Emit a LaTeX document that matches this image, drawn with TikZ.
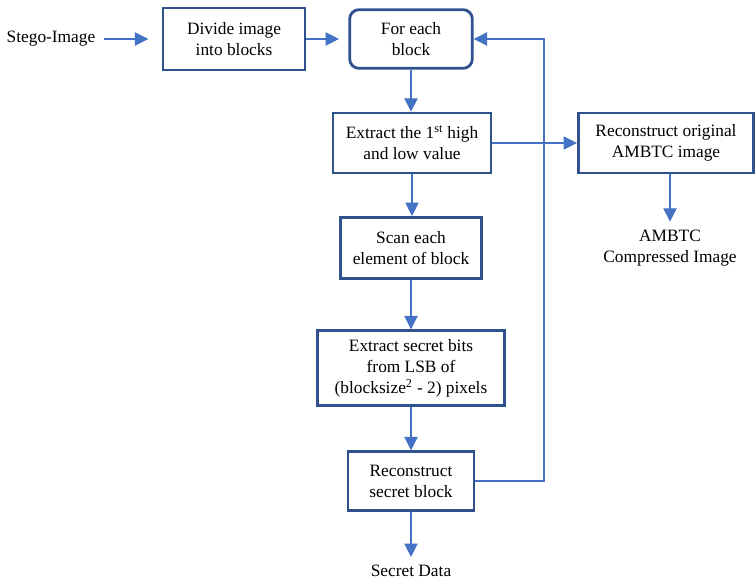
\documentclass[tikz,border=0pt]{standalone}
\usepackage{fontspec}
\setmainfont{Liberation Serif}
\usetikzlibrary{arrows.meta, positioning}

\tikzset{
  stepbox/.style={draw=boxblue, line width=2.1pt, align=center, inner sep=0pt,
    font=\fontsize{13}{15.8}\selectfont},
  loopbox/.style={stepbox, rounded corners=7pt},
  plain/.style={align=center, inner sep=0pt, font=\fontsize{13}{15.8}\selectfont},
  flow/.style={draw=lineblue, line width=0.8pt,
    -{Triangle[width=10pt,length=10pt]}}
}
\definecolor{boxblue}{RGB}{47,82,143}
\definecolor{lineblue}{RGB}{68,114,196}

\begin{document}
\begin{tikzpicture}[x=0.75pt, y=-0.75pt]
  \useasboundingbox (0,0) rectangle (755,582);

  % main column
  \node[plain] (stego) at (51,39) {Stego-Image};
  \node[stepbox, minimum width=106.5pt, minimum height=46.5pt] (divide) at (234,39)
    {Divide image\\into blocks};
  \node[loopbox, minimum width=92pt, minimum height=44pt] (each) at (411,39)
    {For each\\block};
  \node[stepbox, minimum width=118.5pt, minimum height=45pt] (hilo) at (412,143)
    {Extract the 1\textsuperscript{st} high\\and low value};
  \node[stepbox, minimum width=106pt, minimum height=46pt] (scan) at (411,248)
    {Scan each\\element of block};
  \node[stepbox, minimum width=140pt, minimum height=56pt] (bits) at (411,368)
    {Extract secret bits\\from LSB of\\(blocksize\textsuperscript{2} - 2) pixels};
  \node[stepbox, minimum width=94.5pt, minimum height=44pt] (rsec) at (411,481)
    {Reconstruct\\secret block};
  \node[plain] (data) at (411,571) {Secret Data};

  % side branch
  \node[stepbox, minimum width=131.5pt, minimum height=45pt] (rorig) at (666,143)
    {Reconstruct original\\AMBTC image};
  \node[plain] (ambtc) at (670,248) {AMBTC\\Compressed Image};

  \coordinate (loop) at (544,481);

  \draw[flow, shorten >=10pt] ([xshift=6pt]stego.east) -- (divide.west);
  \draw[flow, shorten >=7pt] (divide.east) -- (each.west);
  \draw[flow] (each.south) -- (each.south |- hilo.north);
  \draw[flow] (hilo.south) -- (hilo.south |- scan.north);
  \draw[flow] (scan.south) -- (scan.south |- bits.north);
  \draw[flow] (bits.south) -- (bits.south |- rsec.north);
  \draw[flow] (rsec.south) -- ([yshift=6pt]data.north);
  \draw[flow] (hilo.east) -- (rorig.west);
  \draw[flow] (rorig.south -| ambtc.north) -- ([yshift=6pt]ambtc.north);
  \draw[flow] (rsec.east) -- (loop) |- (each.east);
\end{tikzpicture}
\end{document}
